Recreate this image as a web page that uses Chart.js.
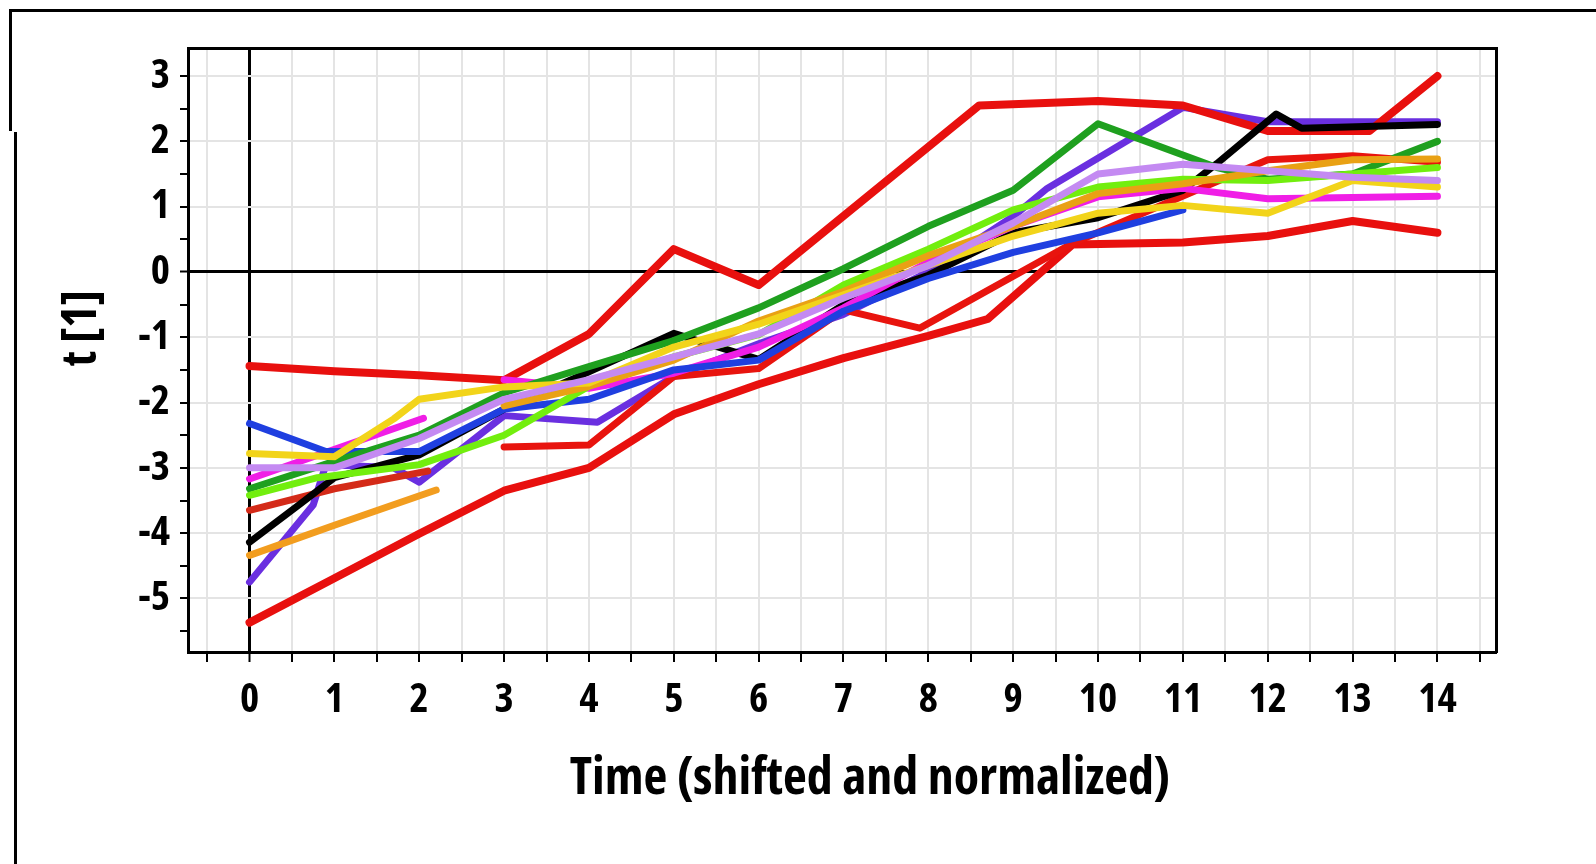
<!DOCTYPE html>
<html>
<head>
<meta charset="utf-8">
<title>t [1] vs time</title>
<script src="https://cdn.jsdelivr.net/npm/chart.js@4.4.1/dist/chart.umd.min.js"></script>
<style>
  html, body { margin: 0; padding: 0; background: #fff; }
  #wrap { position: relative; width: 1596px; height: 864px; overflow: hidden; }
  #myChart { position: absolute; left: 0; top: 0; }
  .frame { position: absolute; background: #000; }
</style>
</head>
<body>
<div id="wrap">
  <canvas id="myChart" width="1596" height="864"></canvas>
  <div class="frame" style="left:9px; top:9px; width:1587px; height:3px"></div>
  <div class="frame" style="left:9px; top:9px; width:3px; height:122px"></div>
  <div class="frame" style="left:14px; top:132px; width:3px; height:732px"></div>
</div>
<script>
// each curve: [time, t] pairs
const redA = [[0,-1.44],[1,-1.52],[2,-1.58],[3,-1.66],[4,-0.95],[5,0.35],[6,-0.2],[8.6,2.55],[10,2.62],[11,2.55],[12,2.16],[13.2,2.16],[14,3.0]]
const redB = [[0,-5.37],[1,-4.69],[2,-4.01],[3,-3.35],[4,-3.0],[5,-2.18],[6,-1.72],[7,-1.32],[8,-0.98],[8.7,-0.72],[9.7,0.42],[11,0.45],[12,0.55],[13,0.78],[14,0.6]]
const redC = [[3,-2.68],[4,-2.65],[5,-1.6],[6,-1.48],[7,-0.58],[7.9,-0.86],[9.7,0.44],[12,1.72],[13,1.78],[14,1.68]]
const redD = [[0,-3.65],[1,-3.32],[2.1,-3.05]]
const blue = [[0,-2.32],[0.9,-2.75],[2,-2.75],[3,-2.1],[4,-1.95],[5,-1.5],[6,-1.35],[7,-0.6],[8,-0.1],[9,0.3],[10,0.6],[11,0.95]]
const yellow = [[0,-2.78],[1,-2.83],[1.7,-2.25],[2,-1.95],[3,-1.76],[4,-1.7],[5,-1.15],[6,-0.8],[7,-0.35],[8,0.1],[9,0.55],[10,0.9],[11,1.02],[12,0.9],[13,1.4],[14,1.3]]
const magenta = [[0,-3.17],[2.05,-2.24]]
const magenta2 = [[3,-1.65],[4,-1.78],[5,-1.55],[6,-1.15],[7,-0.55],[8,0.15],[9,0.7],[10,1.15],[11,1.28],[12,1.12],[13,1.14],[14,1.16]]
const green = [[0,-3.32],[1,-2.9],[2,-2.5],[3,-1.85],[4,-1.45],[5,-1.05],[6,-0.55],[7,0.05],[8,0.7],[9,1.25],[10,2.27],[11.4,1.6],[12,1.42],[13,1.5],[14,2.0]]
const lime = [[0,-3.42],[0.8,-3.15],[2,-2.95],[3,-2.5],[4,-1.75],[5,-1.3],[6,-0.96],[7,-0.2],[8,0.35],[9,0.95],[10,1.3],[11,1.42],[12,1.4],[13,1.5],[14,1.6]]
const black = [[0,-4.14],[0.6,-3.55],[1,-3.15],[2,-2.8],[3,-2.1],[4,-1.53],[5,-0.94],[6,-1.34],[7,-0.5],[8,-0.05],[9,0.6],[10,0.83],[11,1.25],[11.4,1.66],[12.1,2.42],[12.4,2.2],[14,2.26]]
const orange1 = [[0,-4.34],[1,-3.88],[2.2,-3.34]]
const orange2 = [[3,-2.05],[4,-1.75],[5,-1.35],[6,-0.75],[7,-0.3],[8,0.25],[9,0.7],[10,1.2],[11,1.35],[12,1.55],[13,1.72],[14,1.73]]
const violet = [[0,-4.75],[0.75,-3.57],[0.9,-2.95],[1.7,-3.0],[2,-3.22],[3,-2.2],[4.1,-2.3],[5,-1.6],[6,-1.1],[7,-0.65],[8,0.0],[9,0.85],[9.4,1.28],[11,2.52],[12,2.3],[14,2.3]]
const lavender = [[0,-3.0],[1,-3.0],[2,-2.55],[3,-1.95],[4,-1.65],[5,-1.3],[6,-0.95],[7,-0.4],[8,0.1],[9,0.75],[10,1.5],[11,1.65],[12,1.55],[13,1.45],[14,1.4]]

const xTicks = [-0.5,0,0.5,1,1.5,2,2.5,3,3.5,4,4.5,5,5.5,6,6.5,7,7.5,8,8.5,9,9.5,10,10.5,11,11.5,12,12.5,13,13.5,14,14.5]
const yTicks = [-5.5,-5,-4.5,-4,-3.5,-3,-2.5,-2,-1.5,-1,-0.5,0,0.5,1,1.5,2,2.5,3]

// leading spaces nudge the titles off-centre like in the figure
const xTitle = '\u00a0\u00a0\u00a0\u00a0\u00a0\u00a0Time (shifted and normalized)'
const yTitle = '\u00a0\u00a0\u00a0\u00a0\u00a0t [1]'

const series = [
  { data: lavender, color: '#c48af2' },
  { data: yellow, color: '#f2d41a' },
  { data: orange1, color: '#f29d1f' },
  { data: orange2, color: '#e9a114' },
  { data: lime, color: '#72ee0e' },
  { data: green, color: '#1fa01f' },
  { data: blue, color: '#1f3fe0' },
  { data: magenta, color: '#f01ee6' },
  { data: magenta2, color: '#f01ee6' },
  { data: black, color: '#000000' },
  { data: redD, color: '#d42a18', w: 7 },
  { data: redC, color: '#e8140e', w: 7 },
  { data: redB, color: '#e8100e', w: 8 },
  { data: redA, color: '#e8100e', w: 8 },
  { data: violet, color: '#6a2fe0' },
]

const FAMILY = '"Open Sans", "DejaVu Sans", sans-serif'
const tickFont = { family: FAMILY, size: 41, weight: 'bold condensed' }

const X_MIN = -0.725, X_MAX = 14.69
const Y_MIN = -5.82, Y_MAX = 3.43

const intLabel = v => Number.isInteger(v) && v >= -5 && v <= 14 ? String(v) : ''

const ctx = document.getElementById('myChart')

new Chart(ctx, {
  type: 'line',
  data: {
    datasets: series.map(s => ({
      data: s.data,
      borderColor: s.color,
      backgroundColor: s.color,
      borderWidth: s.w || 7,
      pointRadius: 0,
      tension: 0,
      fill: false,
      borderJoinStyle: 'round',
      borderCapStyle: 'round'
    }))
  },
  options: {
    responsive: false,
    animation: false,
    devicePixelRatio: 1,
    layout: { padding: { left: 0, right: 100, top: 48, bottom: 0 } },
    plugins: { legend: { display: false }, tooltip: { enabled: false } },
    scales: {
      x: {
        type: 'linear',
        min: X_MIN,
        max: X_MAX,
        afterBuildTicks: s => { s.ticks = xTicks.map(v => ({ value: v })) },
        afterFit: s => { s.height = 212 },
        ticks: { callback: v => (v >= 0 ? intLabel(v) : ''), color: '#000', font: tickFont, padding: 14, autoSkip: false, maxRotation: 0 },
        grid: {
          color: c => c.tick.value === 0 ? '#000' : '#e4e4e4',
          lineWidth: c => c.tick.value === 0 ? 3 : 2,
          tickColor: '#000',
          tickWidth: 2,
          tickLength: 10
        },
        border: { color: '#000', width: 3 },
        title: { display: true, text: xTitle, color: '#000', font: { family: FAMILY, size: 52, weight: 'bold condensed' }, padding: { top: 0, bottom: 54 } }
      },
      y: {
        type: 'linear',
        min: Y_MIN,
        max: Y_MAX,
        afterBuildTicks: s => { s.ticks = yTicks.map(v => ({ value: v })) },
        afterFit: s => { s.width = 188 },
        ticks: { callback: v => intLabel(v), color: '#000', font: tickFont, padding: 10, autoSkip: false },
        grid: {
          color: c => c.tick.value === 0 ? '#000' : (Number.isInteger(c.tick.value) ? '#e4e4e4' : 'rgba(0,0,0,0)'),
          lineWidth: c => c.tick.value === 0 ? 3 : 2,
          tickColor: '#000',
          tickWidth: 2,
          tickLength: 8
        },
        border: { color: '#000', width: 3 },
        title: { display: true, text: yTitle, color: '#000', font: { family: FAMILY, size: 48, weight: 'bold condensed' }, padding: { top: 54, bottom: 0 } }
      },
      x2: {
        type: 'linear', position: 'top', min: X_MIN, max: X_MAX,
        afterFit: s => { s.height = 0 },
        ticks: { display: false },
        grid: { drawOnChartArea: false, drawTicks: false },
        border: { color: '#000', width: 3 }
      },
      y2: {
        type: 'linear', position: 'right', min: Y_MIN, max: Y_MAX,
        afterFit: s => { s.width = 0 },
        ticks: { display: false },
        grid: { drawOnChartArea: false, drawTicks: false },
        border: { color: '#000', width: 3 }
      }
    }
  }
})
</script>
</body>
</html>
